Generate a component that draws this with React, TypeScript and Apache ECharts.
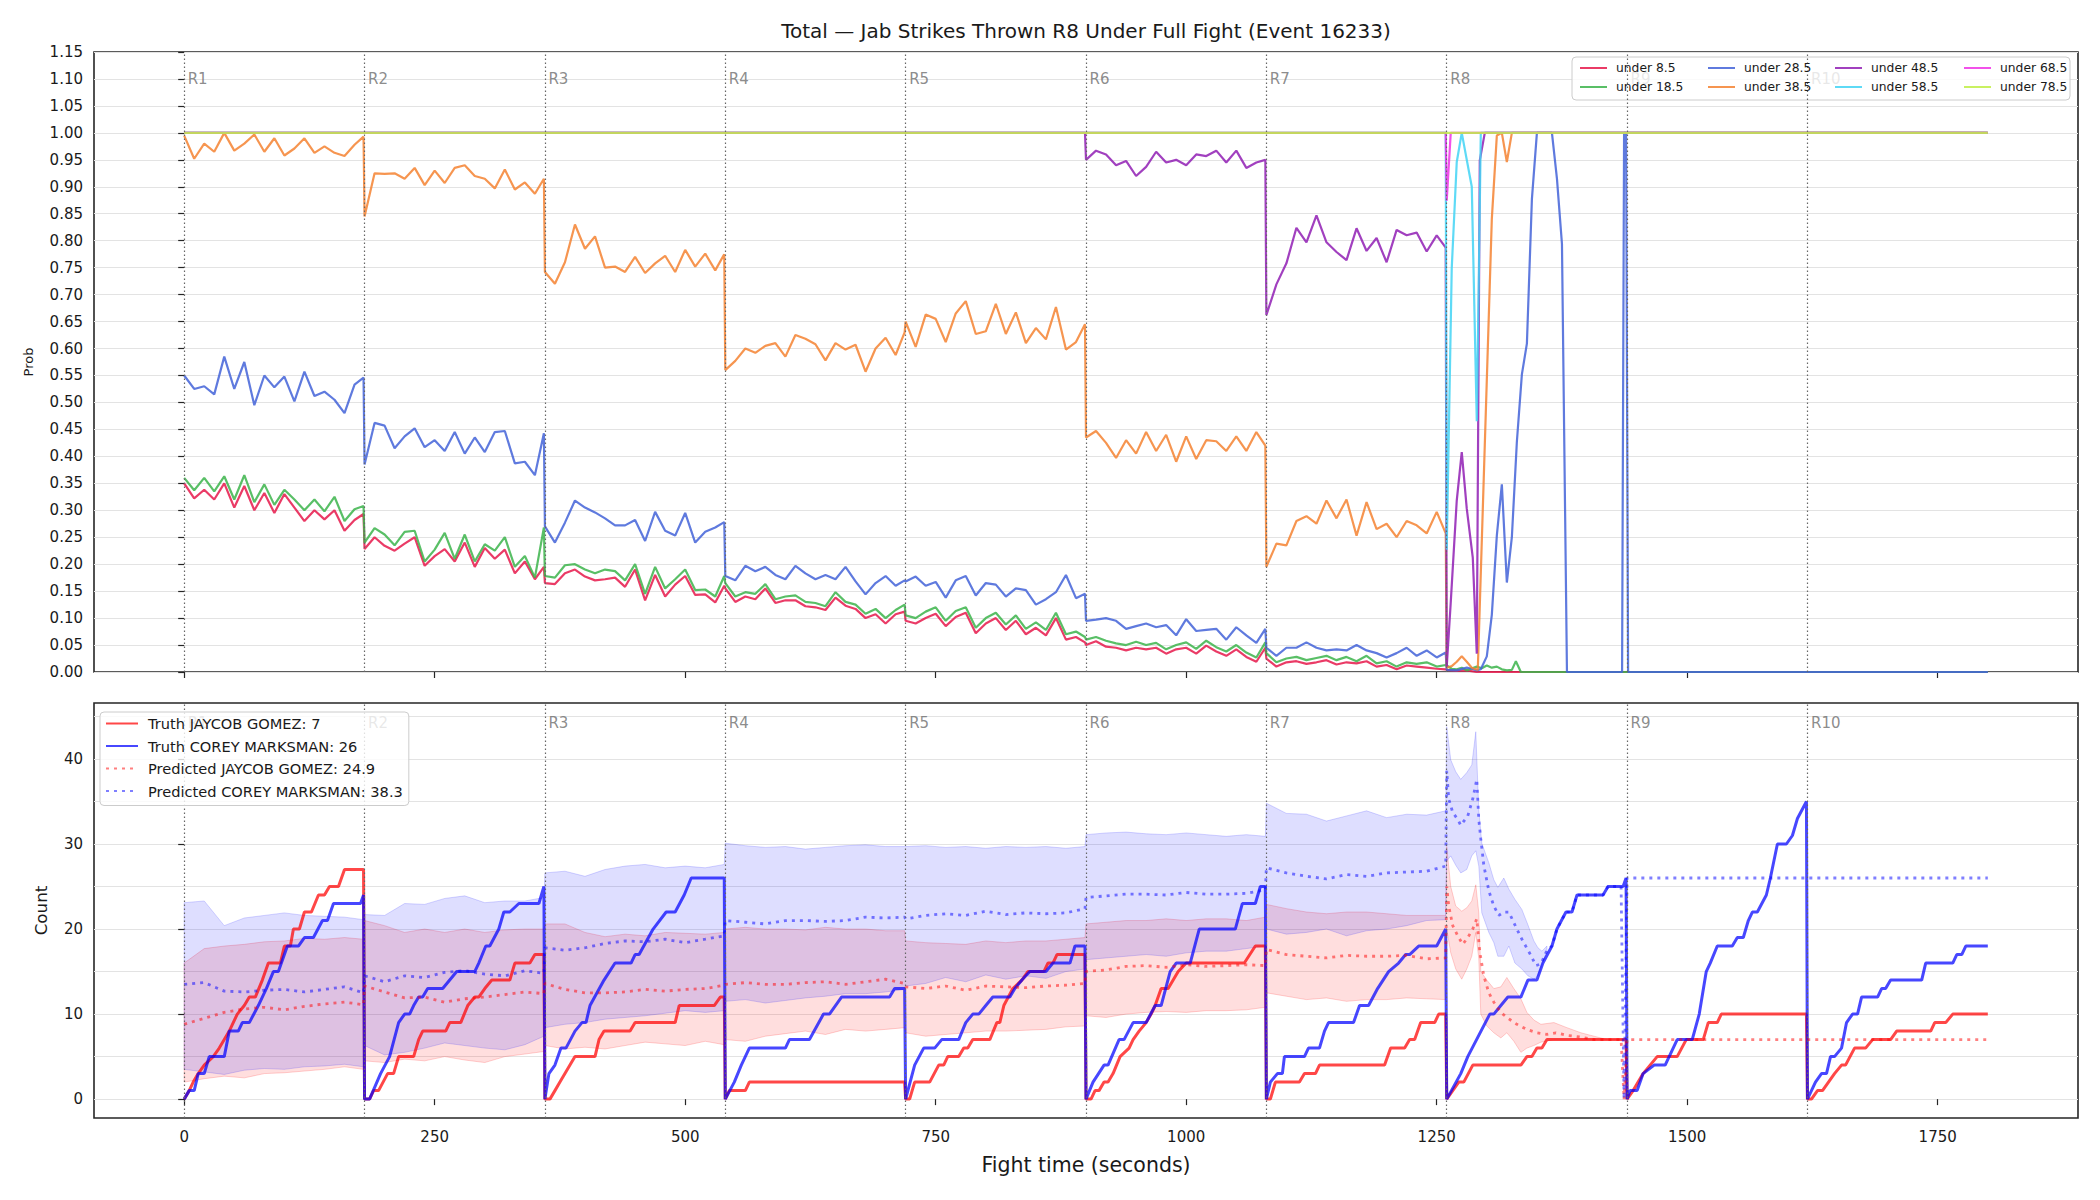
import React, { useEffect, useRef } from "react";
import * as echarts from "echarts";

const FONT = "DejaVu Sans";
const TITLE = "Total — Jab Strikes Thrown R8 Under Full Fight (Event 16233)";
const ROUND_STARTS = [0, 180, 360, 540, 720, 900, 1080, 1260, 1440, 1620];
const ROUND_LABELS = ["R1", "R2", "R3", "R4", "R5", "R6", "R7", "R8", "R9", "R10"];
const X_TICKS = [0, 250, 500, 750, 1000, 1250, 1500, 1750];
const COUNT_TICKS = [0, 10, 20, 30, 40];
const COUNT_GRID = [0, 5, 10, 15, 20, 25, 30, 35, 40, 45];
// sample offsets (seconds into a round)
const TOP_OFFSETS = [0, 10, 20, 30, 40, 50, 60, 70, 80, 90, 100, 110, 120, 130, 140, 150, 160, 170, 179];
const BOT_OFFSETS = [0, 20, 40, 60, 80, 100, 120, 140, 160, 179];

const LEGEND_TOP_NAMES = ["under 8.5", "under 18.5", "under 28.5", "under 38.5", "under 48.5", "under 58.5", "under 68.5", "under 78.5"];
const TOP_COLORS = [
  "rgba(230,25,75,0.85)",
  "rgba(60,180,75,0.85)",
  "rgba(67,99,216,0.85)",
  "rgba(245,130,49,0.85)",
  "rgba(145,30,180,0.85)",
  "rgba(66,212,244,0.85)",
  "rgba(240,50,230,0.85)",
  "rgba(191,239,69,0.85)",
];

// ---------- Top panel: probabilities, rounds R1..R7 at TOP_OFFSETS ----------
const P85_R = [
  [0.35, 0.322, 0.338, 0.32, 0.35, 0.305, 0.345, 0.3, 0.332, 0.295, 0.33, 0.305, 0.28, 0.3, 0.283, 0.3, 0.262, 0.282, 0.293],
  [0.228, 0.25, 0.234, 0.225, 0.238, 0.25, 0.197, 0.215, 0.228, 0.205, 0.24, 0.195, 0.23, 0.21, 0.227, 0.183, 0.205, 0.172, 0.195],
  [0.165, 0.163, 0.183, 0.19, 0.177, 0.17, 0.172, 0.175, 0.158, 0.19, 0.133, 0.18, 0.14, 0.162, 0.178, 0.143, 0.144, 0.129, 0.16],
  [0.155, 0.13, 0.14, 0.135, 0.155, 0.128, 0.133, 0.133, 0.122, 0.12, 0.115, 0.138, 0.123, 0.117, 0.1, 0.107, 0.09, 0.107, 0.112],
  [0.095, 0.09, 0.1, 0.108, 0.085, 0.102, 0.11, 0.072, 0.09, 0.1, 0.078, 0.095, 0.07, 0.082, 0.068, 0.1, 0.06, 0.065, 0.055],
  [0.05, 0.057, 0.047, 0.045, 0.04, 0.045, 0.042, 0.045, 0.034, 0.042, 0.045, 0.034, 0.049, 0.038, 0.03, 0.042, 0.028, 0.019, 0.045],
  [0.025, 0.01, 0.018, 0.02, 0.015, 0.018, 0.022, 0.014, 0.018, 0.016, 0.02, 0.01, 0.013, 0.005, 0.012, 0.01, 0.008, 0.006, 0.005],
];
const P85_LATE = [[1260, 0.004], [1270, 0.002], [1280, 0.003], [1290, 0.0], [1800, 0.0]];

const P185_R = [
  [0.36, 0.337, 0.36, 0.335, 0.363, 0.32, 0.365, 0.315, 0.348, 0.31, 0.338, 0.32, 0.3, 0.32, 0.298, 0.325, 0.28, 0.302, 0.308],
  [0.24, 0.267, 0.255, 0.235, 0.26, 0.262, 0.205, 0.227, 0.258, 0.21, 0.255, 0.205, 0.237, 0.225, 0.25, 0.195, 0.215, 0.175, 0.268],
  [0.178, 0.175, 0.198, 0.2, 0.19, 0.183, 0.19, 0.187, 0.17, 0.2, 0.145, 0.195, 0.155, 0.172, 0.19, 0.152, 0.153, 0.14, 0.178],
  [0.165, 0.14, 0.148, 0.145, 0.163, 0.135, 0.14, 0.142, 0.13, 0.128, 0.122, 0.148, 0.13, 0.125, 0.108, 0.117, 0.1, 0.115, 0.125],
  [0.105, 0.1, 0.112, 0.12, 0.095, 0.113, 0.12, 0.082, 0.1, 0.11, 0.088, 0.105, 0.08, 0.092, 0.078, 0.11, 0.07, 0.075, 0.065],
  [0.06, 0.065, 0.058, 0.053, 0.05, 0.056, 0.05, 0.054, 0.042, 0.05, 0.055, 0.043, 0.058, 0.046, 0.038, 0.05, 0.036, 0.027, 0.055],
  [0.035, 0.018, 0.025, 0.028, 0.022, 0.026, 0.03, 0.022, 0.028, 0.02, 0.03, 0.016, 0.02, 0.01, 0.018, 0.015, 0.018, 0.01, 0.013],
];
const P185_LATE = [
  [1260, 0.012], [1265, 0.006], [1270, 0.005], [1275, 0.008], [1280, 0.003], [1290, 0.01], [1295, 0.007],
  [1300, 0.012], [1305, 0.008], [1310, 0.01], [1315, 0.005], [1320, 0.003], [1325, 0.004], [1329, 0.02],
  [1334, 0.0], [1800, 0.0],
];

const P285_R = [
  [0.55, 0.525, 0.53, 0.515, 0.585, 0.525, 0.575, 0.495, 0.55, 0.528, 0.548, 0.502, 0.557, 0.512, 0.52, 0.505, 0.48, 0.533, 0.546],
  [0.385, 0.462, 0.457, 0.415, 0.437, 0.452, 0.417, 0.43, 0.41, 0.445, 0.405, 0.435, 0.408, 0.445, 0.447, 0.387, 0.39, 0.365, 0.443],
  [0.27, 0.24, 0.277, 0.318, 0.305, 0.296, 0.285, 0.272, 0.272, 0.282, 0.243, 0.297, 0.262, 0.253, 0.295, 0.24, 0.26, 0.268, 0.278],
  [0.178, 0.17, 0.197, 0.187, 0.195, 0.18, 0.172, 0.197, 0.183, 0.172, 0.18, 0.172, 0.195, 0.168, 0.144, 0.165, 0.178, 0.16, 0.17],
  [0.168, 0.177, 0.16, 0.167, 0.138, 0.17, 0.178, 0.142, 0.165, 0.162, 0.14, 0.155, 0.152, 0.125, 0.135, 0.148, 0.18, 0.137, 0.145],
  [0.095, 0.097, 0.1, 0.095, 0.08, 0.085, 0.09, 0.083, 0.087, 0.068, 0.098, 0.076, 0.078, 0.08, 0.06, 0.083, 0.068, 0.054, 0.08],
  [0.045, 0.03, 0.045, 0.045, 0.055, 0.045, 0.04, 0.042, 0.04, 0.05, 0.04, 0.035, 0.027, 0.035, 0.045, 0.03, 0.04, 0.027, 0.036],
];
const P285_LATE = [
  [1260, 0.004], [1270, 0.003], [1280, 0.008], [1285, 0.006], [1290, 0.003], [1294, 0.005], [1300, 0.029],
  [1305, 0.106], [1310, 0.253], [1315, 0.348], [1320, 0.166], [1325, 0.25], [1330, 0.427], [1335, 0.552],
  [1340, 0.609], [1345, 0.877], [1350, 1.0], [1365, 1.0], [1370, 0.915], [1375, 0.794], [1380, 0.0],
  [1435, 0.0], [1437, 1.0], [1439, 1.0], [1441, 0.0], [1800, 0.0],
];

const P385_R = [
  [0.995, 0.952, 0.98, 0.965, 1.0, 0.967, 0.98, 0.997, 0.965, 0.99, 0.958, 0.971, 0.99, 0.963, 0.975, 0.963, 0.957, 0.978, 0.993],
  [0.845, 0.925, 0.924, 0.925, 0.915, 0.935, 0.903, 0.93, 0.907, 0.935, 0.94, 0.92, 0.915, 0.897, 0.932, 0.895, 0.908, 0.887, 0.915],
  [0.742, 0.72, 0.76, 0.83, 0.785, 0.808, 0.75, 0.752, 0.742, 0.77, 0.74, 0.758, 0.772, 0.742, 0.783, 0.752, 0.776, 0.745, 0.775],
  [0.56, 0.577, 0.6, 0.592, 0.605, 0.61, 0.585, 0.625, 0.618, 0.608, 0.578, 0.61, 0.598, 0.607, 0.557, 0.6, 0.62, 0.588, 0.63],
  [0.65, 0.603, 0.663, 0.655, 0.612, 0.665, 0.688, 0.627, 0.632, 0.683, 0.627, 0.667, 0.61, 0.638, 0.617, 0.677, 0.598, 0.612, 0.645],
  [0.435, 0.447, 0.425, 0.397, 0.43, 0.405, 0.445, 0.41, 0.44, 0.39, 0.437, 0.395, 0.43, 0.428, 0.41, 0.437, 0.41, 0.445, 0.42],
  [0.195, 0.238, 0.235, 0.28, 0.289, 0.275, 0.318, 0.285, 0.32, 0.253, 0.315, 0.265, 0.275, 0.25, 0.28, 0.272, 0.257, 0.297, 0.257],
];
const P385_LATE = [
  [1260, 0.008], [1265, 0.011], [1270, 0.019], [1275, 0.029], [1280, 0.019], [1285, 0.008], [1291, 0.004],
  [1305, 0.84], [1310, 0.995], [1315, 1.0], [1320, 0.946], [1325, 1.0], [1800, 1.0],
];

const P485_EARLY = [[0, 1.0], [899, 1.0]];
const P485_R = [
  [0.95, 0.967, 0.96, 0.94, 0.948, 0.92, 0.937, 0.965, 0.945, 0.95, 0.94, 0.96, 0.957, 0.967, 0.945, 0.967, 0.935, 0.945, 0.95],
  [0.662, 0.719, 0.758, 0.824, 0.797, 0.847, 0.797, 0.779, 0.764, 0.823, 0.781, 0.805, 0.76, 0.82, 0.81, 0.815, 0.78, 0.81, 0.787],
];
const P485_LATE = [
  [1260, 0.01], [1264, 0.129], [1270, 0.318], [1275, 0.408], [1280, 0.303], [1286, 0.212], [1290, 0.034],
  [1293, 0.949], [1298, 1.0], [1800, 1.0],
];
const P585_PTS = [[0, 1.0], [1259, 1.0], [1260, 0.227], [1265, 0.749], [1270, 0.946], [1275, 1.0], [1285, 0.9], [1290, 0.465], [1294, 1.0], [1800, 1.0]];
const P685_PTS = [[0, 1.0], [1259, 1.0], [1260, 0.874], [1264, 1.0], [1800, 1.0]];
const P785_PTS = [[0, 1.0], [1800, 1.0]];

// ---------- Bottom panel: counts ----------
const TRUTH_RED = [
  [0, 0], [5, 1], [9, 2], [14, 3], [20, 4], [29, 5], [35, 6], [40, 7], [45, 8], [53, 10], [60, 11], [65, 12], [71, 12], [78, 14], [84, 16], [96, 16], [100, 18], [106, 18], [109, 20], [115, 20], [120, 22], [127, 22], [134, 24], [140, 24], [145, 25], [154, 25], [160, 27], [179, 27],
  [180, 0], [185, 0], [189, 1], [194, 1], [203, 3], [209, 3], [214, 5], [229, 5], [234, 7], [238, 8], [261, 8], [265, 9], [276, 9], [283, 11], [290, 12], [294, 12], [300, 13], [307, 14], [325, 14], [330, 16], [345, 16], [350, 17], [359, 17],
  [360, 0], [365, 0], [370, 1], [375, 2], [380, 3], [385, 4], [390, 5], [410, 5], [414, 7], [419, 8], [445, 8], [450, 9], [490, 9], [494, 11], [529, 11], [535, 12], [539, 12],
  [540, 0], [544, 1], [560, 1], [564, 2], [719, 2],
  [720, 0], [724, 0], [729, 2], [744, 2], [753, 4], [758, 4], [762, 5], [773, 5], [778, 6], [782, 6], [787, 7], [804, 7], [811, 9], [814, 9], [818, 11], [827, 13], [836, 14], [842, 15], [858, 15], [862, 16], [867, 16], [871, 17], [899, 17],
  [900, 0], [905, 0], [909, 1], [913, 1], [918, 2], [922, 2], [927, 3], [934, 5], [943, 6], [947, 7], [953, 8], [960, 9], [965, 10], [969, 11], [975, 13], [982, 13], [987, 14], [992, 15], [1000, 16], [1058, 16], [1069, 18], [1079, 18],
  [1080, 0], [1084, 0], [1089, 2], [1113, 2], [1118, 3], [1129, 3], [1133, 4], [1198, 4], [1204, 6], [1218, 6], [1223, 7], [1228, 7], [1234, 9], [1248, 9], [1252, 10], [1259, 10],
  [1260, 0], [1272, 2], [1277, 2], [1286, 4], [1334, 4], [1340, 5], [1345, 5], [1350, 6], [1355, 6], [1360, 7], [1439, 7],
  [1440, 0], [1446, 1], [1456, 3], [1470, 5], [1490, 5], [1499, 7], [1516, 7], [1521, 9], [1530, 9], [1534, 10], [1619, 10],
  [1620, 0], [1624, 0], [1630, 1], [1635, 1], [1641, 2], [1647, 3], [1654, 4], [1658, 4], [1667, 6], [1678, 6], [1685, 7], [1703, 7], [1709, 8], [1743, 8], [1747, 9], [1758, 9], [1765, 10], [1800, 10],
];
const TRUTH_BLUE = [
  [0, 0], [5, 1], [10, 1], [14, 3], [20, 3], [25, 5], [40, 5], [45, 8], [54, 8], [58, 9], [65, 9], [74, 11], [82, 13], [89, 15], [94, 15], [103, 18], [114, 18], [120, 19], [129, 19], [138, 21], [143, 21], [149, 23], [176, 23], [179, 24],
  [180, 0], [185, 0], [196, 3], [205, 5], [214, 9], [220, 10], [225, 10], [229, 11], [234, 12], [238, 12], [243, 13], [258, 13], [265, 14], [272, 15], [290, 15], [294, 16], [301, 18], [305, 18], [314, 20], [319, 22], [325, 22], [334, 23], [354, 23], [359, 25],
  [360, 0], [364, 3], [370, 4], [376, 6], [381, 6], [390, 8], [397, 9], [401, 9], [405, 11], [419, 14], [430, 16], [446, 16], [450, 17], [454, 17], [468, 20], [481, 22], [490, 22], [499, 24], [506, 26], [539, 26],
  [540, 0], [549, 2], [556, 4], [564, 6], [600, 6], [604, 7], [624, 7], [638, 10], [644, 10], [656, 12], [704, 12], [709, 13], [719, 13],
  [720, 0], [729, 4], [738, 6], [749, 6], [756, 7], [773, 7], [780, 9], [787, 10], [793, 10], [800, 11], [807, 12], [824, 12], [829, 13], [836, 14], [844, 15], [860, 15], [867, 16], [884, 16], [889, 18], [899, 18],
  [900, 0], [907, 2], [918, 4], [922, 4], [933, 7], [938, 7], [947, 9], [960, 9], [969, 11], [975, 11], [984, 15], [990, 16], [1004, 16], [1013, 20], [1049, 20], [1056, 23], [1069, 23], [1074, 25], [1079, 25],
  [1080, 0], [1084, 2], [1091, 3], [1096, 3], [1098, 5], [1118, 5], [1122, 6], [1133, 6], [1138, 8], [1142, 9], [1167, 9], [1173, 11], [1182, 11], [1191, 13], [1202, 15], [1212, 16], [1219, 17], [1223, 17], [1232, 18], [1250, 18], [1259, 20],
  [1260, 0], [1274, 3], [1281, 5], [1303, 10], [1307, 10], [1314, 11], [1321, 12], [1334, 12], [1341, 14], [1350, 14], [1356, 16], [1365, 18], [1370, 20], [1379, 22], [1385, 22], [1390, 24], [1416, 24], [1421, 25], [1436, 25], [1439, 26],
  [1440, 0], [1443, 1], [1450, 1], [1456, 3], [1467, 4], [1478, 4], [1490, 7], [1505, 7], [1512, 10], [1519, 15], [1523, 16], [1530, 18], [1545, 18], [1550, 19], [1556, 19], [1561, 21], [1565, 22], [1570, 22], [1579, 24], [1583, 26], [1590, 30], [1599, 30], [1605, 31], [1610, 33], [1619, 35],
  [1620, 0], [1628, 2], [1634, 3], [1639, 3], [1643, 5], [1647, 5], [1654, 6], [1659, 9], [1665, 10], [1670, 10], [1674, 12], [1690, 12], [1694, 13], [1698, 13], [1703, 14], [1734, 14], [1738, 16], [1765, 16], [1769, 17], [1774, 17], [1778, 18], [1800, 18],
];

// predicted means, rounds R1..R7 at BOT_OFFSETS
const PRED_RED_R = [
  [8.8, 9.5, 10.2, 10.6, 10.8, 10.5, 10.9, 11.2, 11.4, 11.1],
  [13.3, 12.6, 11.9, 12.0, 11.4, 11.8, 12.0, 12.3, 12.6, 12.4],
  [13.6, 12.9, 12.5, 12.5, 12.6, 12.9, 12.7, 12.9, 13.0, 13.4],
  [13.5, 13.7, 13.5, 13.5, 13.7, 13.8, 13.5, 13.8, 14.1, 13.6],
  [13.2, 13.0, 13.3, 12.8, 13.3, 13.2, 13.1, 13.3, 13.4, 13.6],
  [15.0, 15.2, 15.6, 15.7, 15.5, 15.8, 15.6, 15.7, 15.8, 15.7],
  [17.6, 17.0, 16.8, 16.6, 16.9, 16.8, 16.8, 16.9, 16.5, 16.6],
];
const PRED_RED_LATE = [
  [1260, 25.0], [1262, 22.7], [1266, 20.4], [1271, 19.2], [1276, 18.2], [1281, 19.0], [1286, 20.0], [1290, 21.2],
  [1293, 17.3], [1297, 14.5], [1302, 12.5], [1307, 11.4], [1314, 10.2], [1320, 9.6], [1330, 8.8], [1340, 8.2],
  [1350, 7.8], [1360, 7.6], [1369, 7.8], [1380, 7.5], [1394, 7.3], [1407, 7.0], [1434, 7.0], [1437, 0],
  [1440, 7.0], [1800, 7.0],
];
const PRED_BLUE_R = [
  [13.5, 13.7, 12.7, 12.6, 12.8, 12.9, 12.6, 12.9, 13.2, 12.5],
  [14.5, 13.8, 14.5, 14.3, 14.9, 15.1, 14.7, 14.5, 15.1, 14.8],
  [17.8, 17.5, 17.8, 18.3, 18.6, 18.5, 18.8, 18.4, 18.8, 19.2],
  [21.0, 20.8, 20.6, 21.0, 21.0, 20.9, 21.0, 21.4, 21.3, 21.4],
  [21.2, 21.6, 21.8, 21.6, 22.1, 21.7, 21.9, 21.8, 21.9, 22.4],
  [23.7, 23.9, 24.1, 24.1, 24.0, 24.3, 24.1, 24.1, 24.2, 24.6],
  [27.2, 26.6, 26.2, 25.9, 26.4, 26.2, 26.6, 26.7, 26.8, 27.4],
];
const PRED_BLUE_LATE = [
  [1260, 38.6], [1262, 35.3], [1266, 33.7], [1271, 32.9], [1274, 32.2], [1281, 33.3], [1286, 35.3], [1290, 37.6],
  [1292, 32.9], [1294, 30.6], [1297, 27.5], [1302, 24.5], [1307, 22.7], [1312, 21.6], [1317, 22.0], [1322, 22.0],
  [1330, 20.0], [1335, 18.8], [1344, 16.9], [1349, 15.7], [1354, 15.9], [1360, 17.5], [1365, 18.0], [1370, 20.0],
  [1379, 22.0], [1385, 22.0], [1390, 24.0], [1416, 24.0], [1421, 25.0], [1434, 25.0], [1437, 0], [1440, 26.0],
  [1800, 26.0],
];

// prediction bands (lower / upper), rounds R1..R7 at BOT_OFFSETS
const RED_LO_R = [
  [2.0, 2.4, 2.7, 2.5, 3.0, 3.1, 3.3, 3.5, 3.8, 3.5],
  [4.5, 4.3, 4.7, 4.5, 5.0, 4.6, 4.3, 5.0, 5.3, 5.6],
  [6.3, 5.9, 6.1, 5.9, 6.3, 6.7, 6.5, 6.3, 6.8, 6.4],
  [7.0, 6.8, 7.4, 7.7, 8.0, 7.6, 8.2, 8.0, 8.2, 8.4],
  [7.8, 7.4, 7.6, 7.8, 8.0, 8.0, 8.1, 8.2, 8.5, 8.6],
  [9.8, 9.6, 10.0, 10.2, 10.3, 10.2, 10.4, 10.4, 10.5, 10.8],
  [12.5, 12.1, 11.7, 11.9, 11.5, 11.7, 11.7, 11.9, 11.8, 11.7],
];
const RED_HI_R = [
  [16.0, 17.7, 18.0, 18.2, 18.5, 18.6, 18.9, 18.8, 19.0, 18.8],
  [21.0, 20.4, 19.6, 20.0, 19.6, 20.0, 19.6, 19.9, 20.0, 20.0],
  [20.6, 20.6, 19.6, 19.1, 19.4, 19.2, 19.6, 19.5, 19.4, 19.6],
  [20.0, 20.2, 20.0, 20.0, 19.9, 20.2, 20.0, 20.0, 19.8, 19.8],
  [18.6, 18.4, 18.3, 18.2, 18.6, 18.4, 18.6, 18.6, 18.8, 19.0],
  [20.6, 20.8, 21.0, 21.0, 21.2, 21.0, 21.2, 21.2, 21.0, 21.4],
  [22.9, 22.4, 22.0, 21.8, 22.0, 22.0, 21.8, 21.6, 21.6, 21.6],
];
const RED_BAND_LATE = [
  [1260, 20.0, 29.7], [1264, 17.2, 25.0], [1269, 15.3, 22.7], [1275, 14.1, 22.1], [1280, 15.3, 22.5],
  [1285, 16.8, 23.3], [1289, 19.6, 25.2], [1292, 16.5, 21.9], [1294, 10.0, 15.0], [1300, 8.6, 14.0],
  [1307, 7.8, 13.0], [1314, 7.2, 13.2], [1320, 7.8, 14.3], [1327, 6.8, 13.0], [1334, 5.5, 11.8],
  [1340, 6.0, 10.2], [1347, 6.3, 9.3], [1354, 6.7, 8.8], [1367, 7.0, 9.0], [1380, 7.0, 8.4],
  [1394, 7.0, 7.8], [1407, 7.0, 7.4], [1420, 7.0, 7.0], [1437, 7.0, 7.0],
];
const BLUE_LO_R = [
  [3.5, 3.2, 2.9, 3.4, 3.6, 3.5, 3.8, 3.9, 4.1, 3.8],
  [6.3, 5.2, 5.5, 6.0, 6.6, 6.3, 6.0, 5.8, 6.4, 7.4],
  [8.4, 8.8, 9.0, 9.4, 9.6, 9.8, 10.1, 10.4, 10.2, 10.4],
  [11.5, 11.7, 11.3, 11.6, 11.9, 12.1, 12.4, 12.4, 12.6, 12.9],
  [13.3, 13.6, 14.3, 13.8, 14.6, 14.1, 14.5, 14.2, 15.0, 15.3],
  [16.4, 16.6, 16.8, 17.0, 16.8, 17.2, 17.4, 17.4, 17.7, 18.0],
  [20.0, 19.4, 19.6, 20.0, 19.2, 19.8, 20.0, 20.4, 21.0, 21.1],
];
const BLUE_HI_R = [
  [23.1, 23.3, 20.4, 21.3, 21.6, 21.9, 21.6, 21.5, 21.4, 21.1],
  [21.7, 21.6, 23.0, 22.9, 23.6, 23.9, 23.1, 23.3, 23.3, 23.7],
  [26.6, 26.8, 26.2, 27.0, 27.4, 27.6, 27.2, 27.4, 27.2, 27.6],
  [30.1, 29.8, 29.6, 29.7, 29.4, 29.6, 29.8, 29.9, 29.7, 29.7],
  [29.7, 29.8, 29.6, 29.7, 29.5, 29.7, 29.6, 29.7, 29.5, 29.7],
  [31.1, 31.3, 31.4, 31.2, 31.1, 31.3, 31.1, 30.9, 31.1, 30.9],
  [34.8, 33.6, 33.5, 32.7, 33.3, 33.9, 33.1, 33.5, 33.4, 33.9],
];
const BLUE_BAND_LATE = [
  [1260, 28.0, 43.8], [1264, 28.6, 39.9], [1269, 27.5, 38.5], [1274, 26.6, 37.6], [1280, 27.0, 38.4],
  [1285, 28.6, 39.3], [1289, 29.2, 43.2], [1292, 27.4, 34.0], [1295, 21.9, 30.1], [1302, 19.6, 27.8],
  [1307, 18.4, 25.8], [1311, 16.8, 24.9], [1317, 16.8, 26.0], [1322, 18.0, 24.7], [1328, 16.0, 23.5],
  [1335, 15.3, 22.3], [1341, 14.5, 20.5], [1347, 14.1, 18.6], [1351, 14.5, 17.8], [1355, 15.7, 17.4],
  [1360, 17.5, 18.0],
];

const BOTTOM_NAMES = [
  "Truth JAYCOB GOMEZ: 7",
  "Truth COREY MARKSMAN: 26",
  "Predicted JAYCOB GOMEZ: 24.9",
  "Predicted COREY MARKSMAN: 38.3",
];

// ---------- helpers ----------
function expand(rounds: number[][], offsets: number[], firstRound = 0): number[][] {
  const out: number[][] = [];
  rounds.forEach((vals, r) => {
    vals.forEach((v, i) => out.push([ROUND_STARTS[firstRound + r] + offsets[i], v]));
  });
  return out;
}
function expandBand(lo: number[][], hi: number[][], offsets: number[]): number[][] {
  const out: number[][] = [];
  lo.forEach((vals, r) => {
    vals.forEach((v, i) => out.push([ROUND_STARTS[r] + offsets[i], v, hi[r][i]]));
  });
  return out;
}

export default function App() {
  const ref = useRef<HTMLDivElement>(null);

  useEffect(() => {
    if (!ref.current) return;
    const chart = echarts.init(ref.current, null, { renderer: "svg" });
    const ink = "#1a1a1a";

    const topData = [
      expand(P85_R, TOP_OFFSETS).concat(P85_LATE),
      expand(P185_R, TOP_OFFSETS).concat(P185_LATE),
      expand(P285_R, TOP_OFFSETS).concat(P285_LATE),
      expand(P385_R, TOP_OFFSETS).concat(P385_LATE),
      P485_EARLY.concat(expand(P485_R, TOP_OFFSETS, 5)).concat(P485_LATE),
      P585_PTS,
      P685_PTS,
      P785_PTS,
    ];

    const topSeries = topData.map((data, k) => ({
      type: "line",
      name: LEGEND_TOP_NAMES[k],
      xAxisIndex: 0,
      yAxisIndex: 0,
      data,
      showSymbol: false,
      symbol: "none",
      silent: true,
      lineStyle: { width: 2.2, color: TOP_COLORS[k] },
      itemStyle: { color: TOP_COLORS[k], opacity: 0 },
      z: 3,
    }));

    const bandSeries = (rows: number[][], fill: string, stroke: string) => ({
      type: "custom",
      coordinateSystem: "cartesian2d",
      xAxisIndex: 1,
      yAxisIndex: 1,
      silent: true,
      clip: true,
      data: rows,
      encode: { x: 0, y: [1, 2] },
      z: 1,
      renderItem: (params: any, api: any) => {
        if (params.dataIndex !== 0) return null;
        const upper = rows.map((r) => api.coord([r[0], r[2]]));
        const lower = rows.slice().reverse().map((r) => api.coord([r[0], r[1]]));
        return {
          type: "polygon",
          shape: { points: upper.concat(lower) },
          style: { fill, stroke, lineWidth: 1 },
        };
      },
    });

    const botLine = (name: string, color: string, data: number[][], dotted: boolean) => ({
      type: "line",
      name,
      xAxisIndex: 1,
      yAxisIndex: 1,
      data,
      showSymbol: false,
      symbol: "none",
      silent: true,
      lineStyle: { width: dotted ? 2.8 : 3, color, type: dotted ? [3, 5] : "solid" },
      itemStyle: { color, opacity: 0 },
      z: 3,
    });

    const roundMarks = (xi: number, yi: number, labelY: number) => ({
      type: "scatter",
      xAxisIndex: xi,
      yAxisIndex: yi,
      silent: true,
      data: ROUND_STARTS.map((t) => [t, labelY]),
      symbolSize: 1,
      itemStyle: { color: "rgba(0,0,0,0)" },
      label: {
        show: true,
        position: "right",
        distance: 3,
        formatter: (p: any) => ROUND_LABELS[p.dataIndex],
        fontSize: 15,
        color: "#6e6e6e",
        fontFamily: FONT,
      },
      markLine: {
        silent: true,
        symbol: ["none", "none"],
        label: { show: false },
        lineStyle: { type: [1.5, 2.5], color: "#666666", width: 1.2 },
        data: ROUND_STARTS.map((t) => ({ xAxis: t })),
      },
      z: 2,
    });

    const axisTickStyle = { show: true, length: 6, lineStyle: { color: "#262626", width: 1.2 } };
    const labelStyle = { fontSize: 15, color: ink, fontFamily: FONT };

    const topLegend = (names: string[], left: number) => ({
      data: names,
      left,
      top: 61,
      orient: "vertical",
      itemWidth: 27,
      itemHeight: 14,
      itemGap: 5,
      padding: 0,
      z: 10,
      itemStyle: { opacity: 0 },
      textStyle: { fontSize: 12.3, color: ink, fontFamily: FONT, lineHeight: 14, padding: [0, 0, 0, 4] },
    });

    const option: any = {
      animation: false,
      textStyle: { fontFamily: FONT },
      grid: [
        { left: 94, top: 52, width: 1984, height: 620, show: true, borderColor: "#262626", borderWidth: 1.6, backgroundColor: "transparent" },
        { left: 94, top: 703, width: 1984, height: 415, show: true, borderColor: "#262626", borderWidth: 1.6, backgroundColor: "transparent" },
      ],
      xAxis: [
        {
          gridIndex: 0, type: "value", min: -90, max: 1890,
          axisLine: { show: false },
          splitLine: { show: false },
          axisTick: { ...axisTickStyle, customValues: X_TICKS },
          axisLabel: { show: false, customValues: X_TICKS },
        },
        {
          gridIndex: 1, type: "value", min: -90, max: 1890,
          axisLine: { show: false },
          splitLine: { show: false },
          axisTick: { ...axisTickStyle, customValues: X_TICKS },
          axisLabel: { ...labelStyle, margin: 11, customValues: X_TICKS, formatter: (v: number) => String(v) },
          name: "Fight time (seconds)",
          nameLocation: "middle",
          nameGap: 36,
          nameTextStyle: { fontSize: 20.5, color: ink, fontFamily: FONT },
        },
      ],
      yAxis: [
        {
          gridIndex: 0, type: "value", min: 0, max: 1.15, interval: 0.05,
          axisLine: { show: false },
          axisTick: axisTickStyle,
          axisLabel: { ...labelStyle, margin: 11, formatter: (v: number) => v.toFixed(2) },
          splitLine: { show: true, lineStyle: { color: "#e3e3e3", width: 1 } },
          name: "Prob",
          nameLocation: "middle",
          nameGap: 59,
          nameTextStyle: { fontSize: 13, color: ink, fontFamily: FONT },
        },
        {
          gridIndex: 1, type: "value", min: -2.22, max: 46.58, position: "left",
          axisLine: { show: false },
          axisTick: { ...axisTickStyle, customValues: COUNT_TICKS },
          axisLabel: { ...labelStyle, margin: 11, customValues: COUNT_TICKS, formatter: (v: number) => String(v) },
          splitLine: { show: false },
          name: "Count",
          nameLocation: "middle",
          nameGap: 45,
          nameTextStyle: { fontSize: 16.7, color: ink, fontFamily: FONT },
        },
        {
          gridIndex: 1, type: "value", min: -2.22, max: 46.58, position: "right",
          axisLine: { show: false },
          axisTick: { show: false, customValues: COUNT_GRID },
          axisLabel: { show: false, customValues: COUNT_GRID },
          splitLine: { show: true, lineStyle: { color: "#e3e3e3", width: 1 } },
        },
      ],
      legend: [
        topLegend([LEGEND_TOP_NAMES[0], LEGEND_TOP_NAMES[1]], 1579),
        topLegend([LEGEND_TOP_NAMES[2], LEGEND_TOP_NAMES[3]], 1707),
        topLegend([LEGEND_TOP_NAMES[4], LEGEND_TOP_NAMES[5]], 1834),
        topLegend([LEGEND_TOP_NAMES[6], LEGEND_TOP_NAMES[7]], 1963),
        {
          data: BOTTOM_NAMES,
          left: 100,
          top: 712,
          orient: "vertical",
          backgroundColor: "rgba(255,255,255,0.8)",
          borderColor: "#cccccc",
          borderWidth: 1,
          borderRadius: 4,
          padding: [3, 6, 6, 5],
          itemWidth: 32,
          itemHeight: 14,
          itemGap: 5.5,
          z: 10,
          itemStyle: { opacity: 0 },
          textStyle: { fontSize: 14.6, lineHeight: 17, color: ink, fontFamily: FONT, padding: [0, 0, 0, 5] },
        },
      ],
      graphic: [
        {
          type: "rect",
          z: 5,
          shape: { x: 1572, y: 57, width: 498, height: 43, r: 4 },
          style: { fill: "rgba(255,255,255,0.8)", stroke: "#cccccc", lineWidth: 1 },
          silent: true,
        },
        {
          type: "text",
          x: 1086,
          y: 31,
          style: { text: TITLE, fontSize: 20, fontFamily: FONT, fill: ink, textAlign: "center", textVerticalAlign: "middle" },
          silent: true,
        },
      ],
      series: [
        roundMarks(0, 0, 1.1),
        ...topSeries,
        bandSeries(expandBand(RED_LO_R, RED_HI_R, BOT_OFFSETS).concat(RED_BAND_LATE), "rgba(255,0,0,0.13)", "rgba(255,0,0,0.18)"),
        bandSeries(expandBand(BLUE_LO_R, BLUE_HI_R, BOT_OFFSETS).concat(BLUE_BAND_LATE), "rgba(0,0,255,0.13)", "rgba(0,0,255,0.16)"),
        roundMarks(1, 1, 44.2),
        botLine(BOTTOM_NAMES[0], "rgba(255,0,0,0.72)", TRUTH_RED, false),
        botLine(BOTTOM_NAMES[1], "rgba(0,0,255,0.72)", TRUTH_BLUE, false),
        botLine(BOTTOM_NAMES[2], "rgba(255,0,0,0.5)", expand(PRED_RED_R, BOT_OFFSETS).concat(PRED_RED_LATE), true),
        botLine(BOTTOM_NAMES[3], "rgba(0,0,255,0.5)", expand(PRED_BLUE_R, BOT_OFFSETS).concat(PRED_BLUE_LATE), true),
      ],
    };

    chart.setOption(option);
    return () => chart.dispose();
  }, []);

  return (
    <div
      ref={ref}
      style={{ position: "fixed", left: 0, top: 0, width: 2100, height: 1200, background: "#ffffff" }}
    />
  );
}
